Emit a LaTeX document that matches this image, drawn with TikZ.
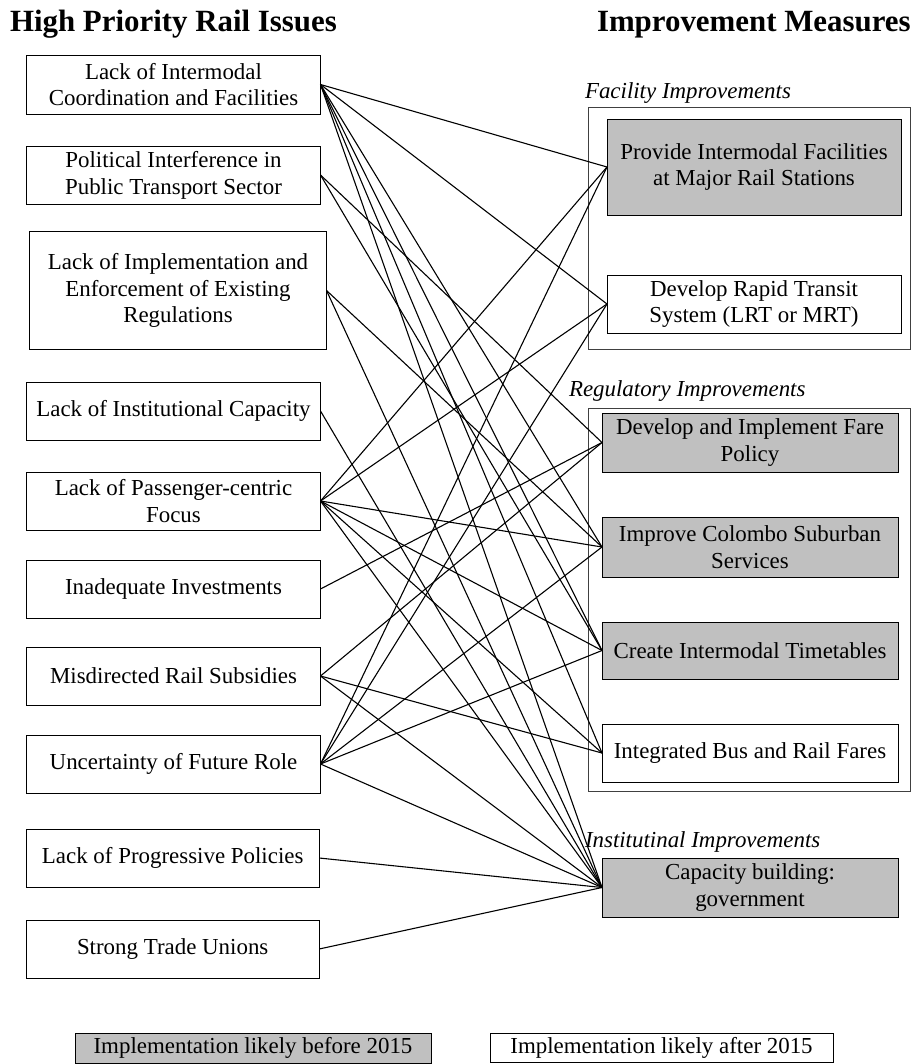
\documentclass[tikz,border=0pt]{standalone}
\usepackage{fontspec}
\setmainfont{Liberation Serif}
\definecolor{boxgray}{HTML}{C0C0C0}
\begin{document}
\begin{tikzpicture}[x=1bp,y=-1bp,
  every node/.style={inner sep=0pt, outer sep=0pt},
  bodyfont/.style={font=\fontsize{23}{27}\selectfont},
  issue/.style={draw=black, line width=0.8bp, fill=white, align=center, bodyfont},
  measure/.style={issue},
  early/.style={fill=boxgray},
  groupframe/.style={draw=black!75, line width=0.8bp},
  grouplabel/.style={anchor=west, font=\fontsize{23}{27}\selectfont\itshape},
  heading/.style={anchor=base west, font=\fontsize{31}{36}\selectfont\bfseries},
  link/.style={line width=1.1bp, black}
]
\useasboundingbox (0,0) rectangle (919,1064);

% headings
\node[heading] (hissues) at (10,31.5) {High Priority Rail Issues};
\node[heading] (hmeasures) at (597,31.5) {Improvement Measures};

% issues (left column)
\node[issue, minimum width=294bp, minimum height=59bp] (L1) at (173.5,84.5) {Lack of Intermodal\\Coordination and Facilities};
\node[issue, minimum width=294bp, minimum height=58bp] (L2) at (173.5,175) {Political Interference in\\Public Transport Sector};
\node[issue, minimum width=297bp, minimum height=118bp] (L3) at (178,290.5) {Lack of Implementation and\\Enforcement of Existing\\Regulations};
\node[issue, minimum width=294bp, minimum height=58bp] (L4) at (173.5,411) {Lack of Institutional Capacity};
\node[issue, minimum width=294bp, minimum height=58bp] (L5) at (173.5,501) {Lack of Passenger-centric\\Focus};
\node[issue, minimum width=294bp, minimum height=58bp] (L6) at (173.5,589) {Inadequate Investments};
\node[issue, minimum width=294bp, minimum height=58bp] (L7) at (173.5,676) {Misdirected Rail Subsidies};
\node[issue, minimum width=294bp, minimum height=58bp] (L8) at (173.5,764) {Uncertainty of Future Role};
\node[issue, minimum width=293bp, minimum height=58bp] (L9) at (172.7,858) {Lack of Progressive Policies};
\node[issue, minimum width=293bp, minimum height=58bp] (L10) at (172.7,949) {Strong Trade Unions};

% measure groups
\draw[groupframe] (588,107) rectangle (910,349);
\node[grouplabel] (gfac) at (585,93) {Facility Improvements};
\draw[groupframe] (588,408) rectangle (910,791);
\node[grouplabel] (greg) at (569,391) {Regulatory Improvements};
\node[grouplabel] (ginst) at (585,842) {Institutinal Improvements};

% measures (right column)
\node[measure, early, minimum width=294bp, minimum height=96bp] (R1) at (754,167) {Provide Intermodal Facilities\\at Major Rail Stations};
\node[measure, minimum width=294bp, minimum height=58bp] (R2) at (754,304) {Develop Rapid Transit\\System (LRT or MRT)};
\node[measure, early, minimum width=296bp, minimum height=59bp] (R3) at (750,442.5) {Develop and Implement Fare\\Policy};
\node[measure, early, minimum width=296bp, minimum height=60bp] (R4) at (750,547) {Improve Colombo Suburban\\Services};
\node[measure, early, minimum width=296bp, minimum height=57bp] (R5) at (750,650.5) {Create Intermodal Timetables};
\node[measure, minimum width=296bp, minimum height=58bp] (R6) at (750,753) {Integrated Bus and Rail Fares};
\node[measure, early, minimum width=296bp, minimum height=59bp] (R7) at (750,887.5) {Capacity building:\\government};

% links between issues and measures
\foreach \a/\b in {L1/R1, L1/R2, L1/R4, L1/R5, L1/R6, L1/R7,
                   L2/R3, L2/R5,
                   L3/R4, L3/R7,
                   L4/R7,
                   L5/R1, L5/R2, L5/R4, L5/R5, L5/R6, L5/R7,
                   L6/R3,
                   L7/R3, L7/R6, L7/R7,
                   L8/R1, L8/R2, L8/R4, L8/R5, L8/R7,
                   L9/R7,
                   L10/R7}
  \draw[link] (\a.east) -- (\b.west);

% legend
\node[issue, early, minimum width=356bp, minimum height=30bp] (kbefore) at (253,1048) {Implementation likely before 2015};
\node[issue, minimum width=343bp, minimum height=29bp] (kafter) at (661.5,1047.5) {Implementation likely after 2015};
\end{tikzpicture}
\end{document}
